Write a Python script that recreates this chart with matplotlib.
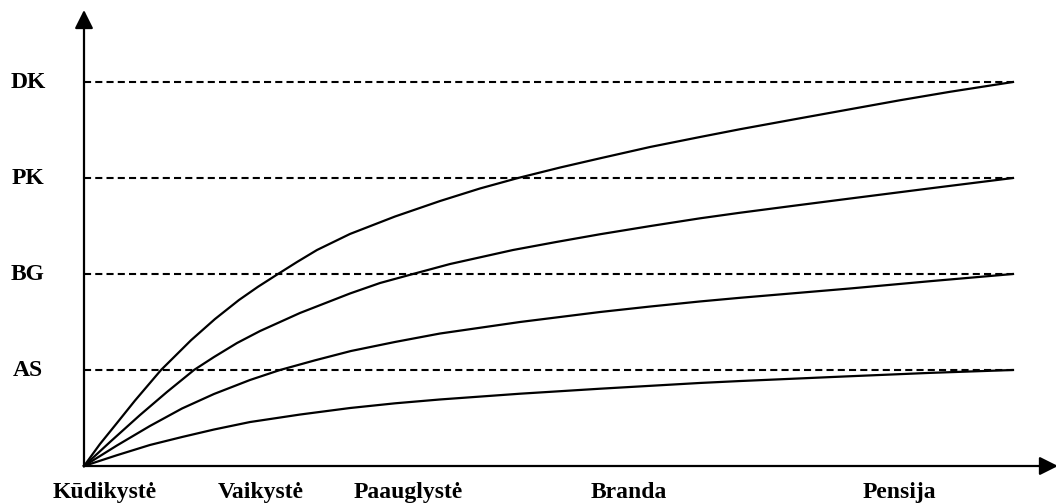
import matplotlib
matplotlib.use("Agg")
import matplotlib.pyplot as plt
from matplotlib.patches import FancyArrowPatch

# levels on the vertical axis
level_names = ["AS", "BG", "PK", "DK"]
level_values = [1, 2, 3, 4]

# life stages on the horizontal axis (position in 0..100)
stage_names = ["Kūdikystė", "Vaikystė", "Paauglystė", "Branda", "Pensija"]
stage_pos = [2.2, 19.0, 34.9, 58.6, 87.8]

# curves
dk_x = [0, 1.72, 3.55, 5.49, 8.29, 11.52, 14.10, 16.68, 18.73, 20.88, 22.93, 25.08, 28.63,
        33.48, 38.32, 42.63, 46.72, 51.24, 55.54, 60.93, 66.31, 70.61, 77.07, 82.45, 87.84,
        93.22, 100]
dk_y = [0, 0.229, 0.448, 0.682, 1.0, 1.31, 1.531, 1.729, 1.867, 2.0, 2.125, 2.25, 2.417,
        2.599, 2.76, 2.891, 3.0, 3.109, 3.205, 3.323, 3.427, 3.508, 3.622, 3.716, 3.810,
        3.898, 4.0]

pk_x = [0, 2.80, 6.03, 8.93, 11.84, 13.99, 16.47, 18.95, 23.25, 28.63, 31.86, 35.41, 39.40,
        46.18, 50.81, 55.54, 60.93, 66.31, 70.61, 76.53, 82.45, 91.07, 100]
pk_y = [0, 0.25, 0.531, 0.771, 1.0, 1.135, 1.281, 1.406, 1.594, 1.797, 1.906, 2.0, 2.104,
        2.25, 2.333, 2.414, 2.499, 2.580, 2.638, 2.7125, 2.786, 2.892, 3.0]

bg_x = [0, 3.55, 7.10, 10.55, 13.99, 17.87, 21.10, 24.87, 28.74, 33.48, 38.32, 46.93, 55.54,
        60.93, 66.31, 70.61, 82.45, 91.07, 100]
bg_y = [0, 0.214, 0.417, 0.599, 0.75, 0.896, 1.0, 1.101, 1.198, 1.292, 1.380, 1.5, 1.604,
        1.661, 1.714, 1.752, 1.849, 1.925, 2.0]

as_x = [0, 3.55, 7.10, 10.55, 13.99, 17.87, 23.25, 28.63, 33.48, 38.32, 46.93, 55.54, 60.93,
        66.31, 70.61, 82.45, 91.07, 100]
as_y = [0, 0.1125, 0.219, 0.302, 0.380, 0.458, 0.536, 0.604, 0.653, 0.693, 0.753, 0.805,
        0.835, 0.865, 0.885, 0.935, 0.970, 1.0]

W, H = 1056, 503
fig = plt.figure(figsize=(W / 100, H / 100), dpi=100)
ax = fig.add_axes([84 / W, (H - 466) / H, 929 / W, 384 / H])
ax.set_xlim(0, 100)
ax.set_ylim(0, 4)
ax.axis("off")

font = dict(family=["Liberation Serif", "DejaVu Serif"], fontweight="bold", fontsize=17)

# dashed reference lines
for v in level_values:
    ax.plot([0, 100], [v, v], color="black", lw=1.5, linestyle=(0, (3.4, 2.0)),
            clip_on=False)

# curves
for xs, ys in [(dk_x, dk_y), (pk_x, pk_y), (bg_x, bg_y), (as_x, as_y)]:
    ax.plot(xs, ys, color="black", lw=1.6, clip_on=False, solid_joinstyle="round")

# axes with arrows
x_end = (1058 - 84) / 929 * 100
y_end = (466 - 10) / 96
for end in [(x_end, 0), (0, y_end)]:
    arr = FancyArrowPatch((0, 0), end, arrowstyle="-|>,head_length=0.56,head_width=0.28",
                          mutation_scale=20, color="black", lw=1.6,
                          shrinkA=0, shrinkB=0, clip_on=False)
    ax.add_patch(arr)

# labels
for name, v in zip(level_names, level_values):
    ax.text(-6.03, v, name, ha="center", va="center", clip_on=False, **font)

for name, p in zip(stage_names, stage_pos):
    ax.text(p, -0.333, name, ha="center", va="baseline", clip_on=False, **font)

fig.savefig("out.png", dpi=100)
